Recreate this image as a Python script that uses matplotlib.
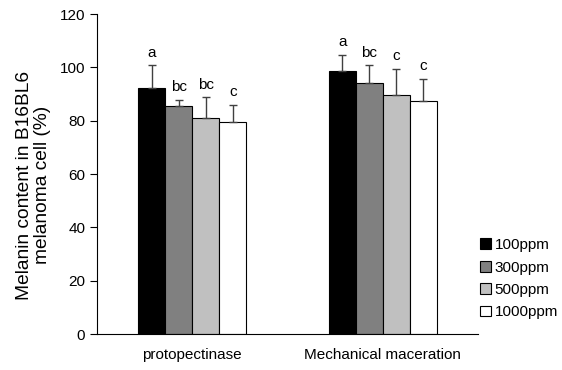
import numpy as np
import matplotlib.pyplot as plt
from matplotlib.patches import Patch

plt.rcParams['font.family'] = ['Liberation Sans', 'DejaVu Sans']

categories = ['protopectinase', 'Mechanical maceration']
series = ['100ppm', '300ppm', '500ppm', '1000ppm']
colors = ['#000000', '#808080', '#c0c0c0', '#ffffff']

means = [
    [92.2, 98.7],   # 100ppm
    [85.6, 94.1],   # 300ppm
    [80.9, 89.6],   # 500ppm
    [79.6, 87.5],   # 1000ppm
]
errors = [
    [8.5, 5.8],
    [2.2, 6.6],
    [7.8, 9.9],
    [6.4, 8.1],
]
letters = [
    ['a', 'a'],
    ['bc', 'bc'],
    ['bc', 'c'],
    ['c', 'c'],
]

fig = plt.figure(figsize=(5.62, 3.70), dpi=100)
ax = fig.add_axes([97 / 562, 1 - 334 / 370, 381 / 562, 320 / 370])

x = np.array([0.5, 1.5])
width = 0.142
for i in range(len(series)):
    pos = x + (i - 1.5) * width
    ax.bar(pos, means[i], width, color=colors[i], edgecolor='black',
           linewidth=0.8, zorder=2)
    ax.errorbar(pos, means[i], yerr=[np.zeros(2), errors[i]], fmt='none',
                ecolor='#404040', elinewidth=1.0, capsize=3, capthick=1.0,
                zorder=3)
    for j in range(len(categories)):
        ax.text(pos[j], means[i][j] + errors[i][j] + 2.2, letters[i][j],
                ha='center', va='bottom', fontsize=11)

ax.set_xlim(0, 2)
ax.set_ylim(0, 120)
ax.set_yticks(np.arange(0, 121, 20))
ax.set_xticks(x)
ax.set_xticklabels(categories, fontsize=11)
ax.tick_params(axis='x', length=0, pad=10)
ax.tick_params(axis='y', labelsize=11, direction='out', length=5)
ax.spines['top'].set_visible(False)
ax.spines['right'].set_visible(False)
ax.set_ylabel('Melanin content in B16BL6\nmelanoma cell (%)', fontsize=13.8,
              multialignment='center', linespacing=1.05)
ax.yaxis.set_label_coords(-0.122, 0.465)

handles = [Patch(facecolor=c, edgecolor='black', linewidth=0.8) for c in colors]
fig.legend(handles, series, loc='upper left', bbox_to_anchor=(474 / 562, 1 - 232 / 370),
           frameon=False, fontsize=11, handlelength=0.7, handleheight=0.7,
           handletextpad=0.25, labelspacing=0.55, borderaxespad=0)

fig.savefig('out.png', dpi=100)
